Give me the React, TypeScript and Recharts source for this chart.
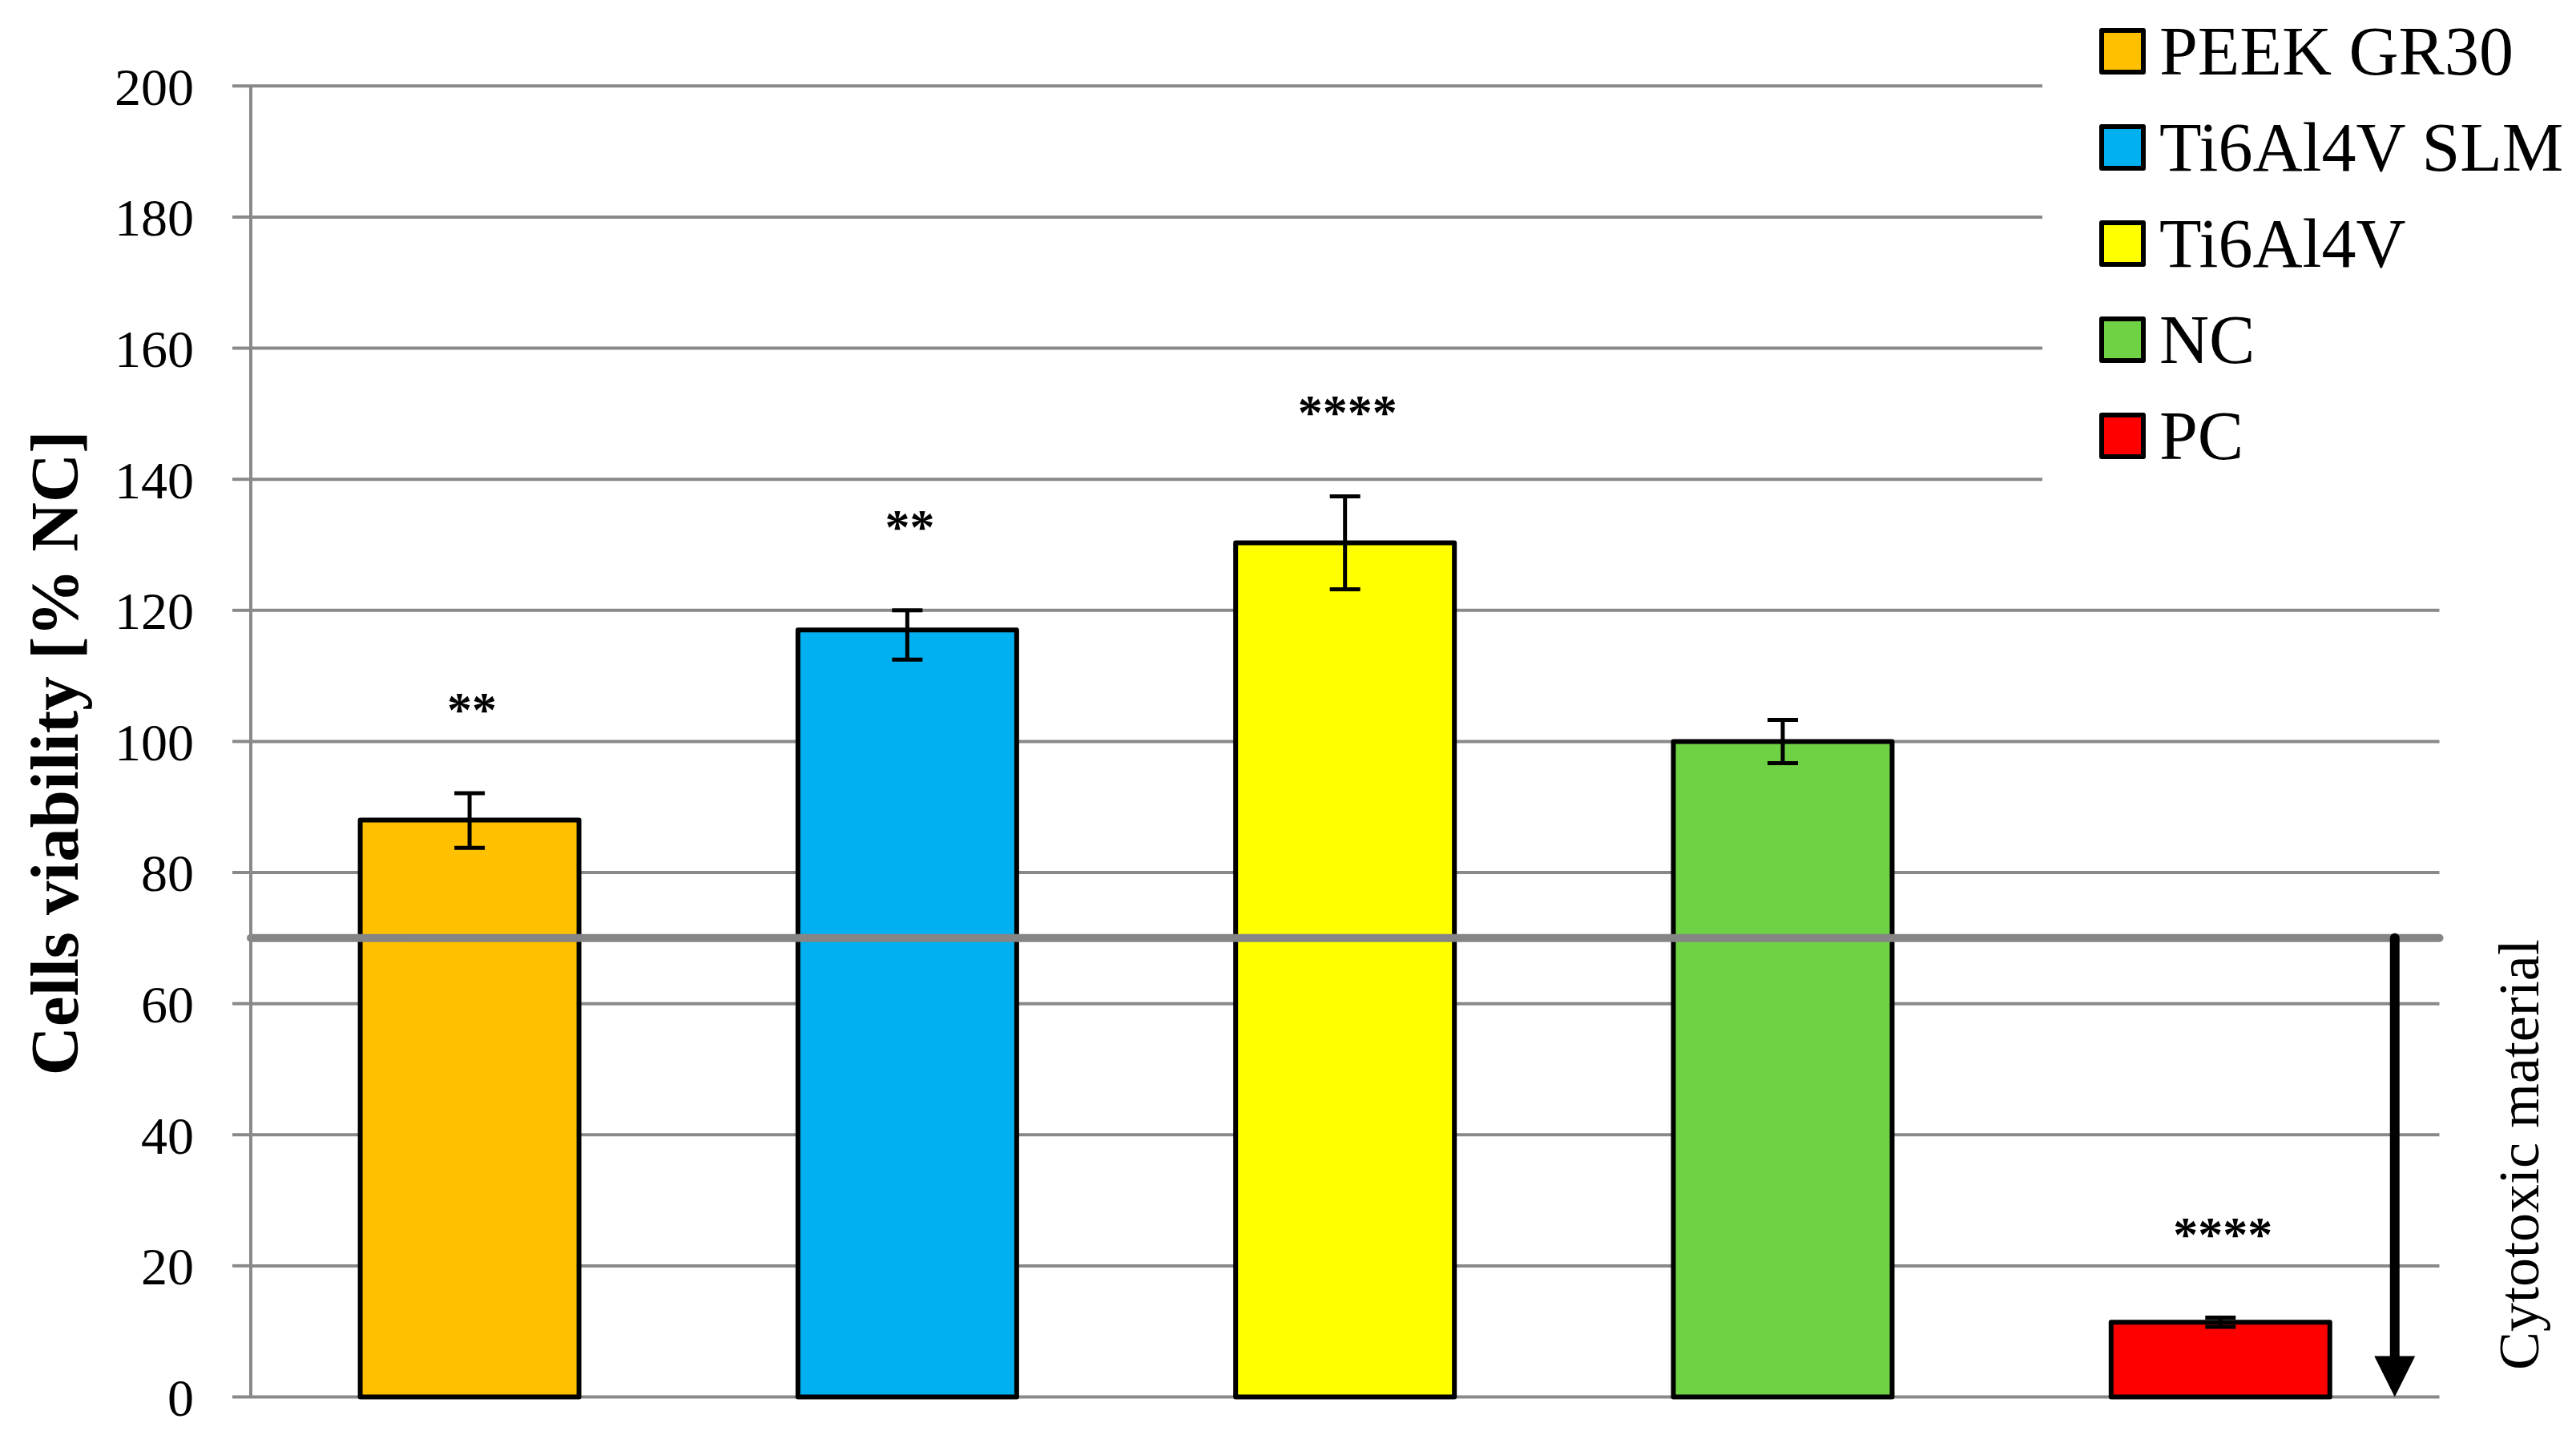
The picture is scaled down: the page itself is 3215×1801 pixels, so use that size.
import React from 'react';
import {
  BarChart,
  Bar,
  XAxis,
  YAxis,
  CartesianGrid,
  ErrorBar,
  Cell,
  ReferenceLine,
  Legend,
  LabelList,
} from 'recharts';

const categories = ['PEEK GR30', 'Ti6Al4V SLM', 'Ti6Al4V', 'NC', 'PC'];
const viability = [88.0, 117.0, 130.3, 100.0, 11.4];
const errMinus = [4.25, 4.5, 7.1, 3.3, 0.7];
const errPlus = [4.1, 3.0, 7.1, 3.3, 0.7];
const significance = ['**', '**', '****', '', '****'];
const colors = ['#FFC000', '#00B0F0', '#FFFF00', '#6FD245', '#FF0000'];
const yTicks = [0, 20, 40, 60, 80, 100, 120, 140, 160, 180, 200];
const cytotoxicThreshold = 70;
const yTitle = 'Cells viability [% NC]';
const arrowText = 'Cytotoxic material';

const data = categories.map((name, i) => ({
  name,
  value: viability[i],
  err: [errMinus[i], errPlus[i]],
  sig: significance[i],
}));

const FONT = '"Liberation Serif", "Times New Roman", serif';
const GRID = '#898989';

const SigLabel = (p: any) => {
  const { x, y, width, height, index, value } = p;
  if (!value) return null;
  const d = data[index];
  const scale = Number(height) / d.value;
  const errTop = Number(y) - d.err[1] * scale;
  return (
    <text
      x={Number(x) + Number(width) / 2 + 3}
      y={errTop - 84}
      textAnchor="middle"
      fontFamily={FONT}
      fontWeight="bold"
      fontSize={62}
      fill="#000"
    >
      {value}
    </text>
  );
};

// Arrow from the cytotoxic threshold down to 0, drawn to the right of the last bar
const ArrowLabel = (p: any) => {
  const { x, y, width, height, index } = p;
  if (index !== categories.length - 1) return null;
  const d = data[index];
  const scale = Number(height) / d.value;
  const bottom = Number(y) + Number(height);
  const top = bottom - cytotoxicThreshold * scale;
  const ax = Number(x) + Number(width) + 81;
  const head = 51;
  const half = 25.5;
  const midY = (top + bottom) / 2 - 16;
  const tx = ax + 179;
  return (
    <g>
      <line x1={ax} y1={top} x2={ax} y2={bottom - head + 4} stroke="#000" strokeWidth={12} strokeLinecap="round" />
      <polygon points={`${ax - half},${bottom - head} ${ax + half},${bottom - head} ${ax},${bottom}`} fill="#000" />
      <text
        x={tx}
        y={midY}
        transform={`rotate(-90, ${tx}, ${midY})`}
        textAnchor="middle"
        fontFamily={FONT}
        fontSize={72}
        fill="#000"
      >
        {arrowText}
      </text>
    </g>
  );
};

const YTitle = () => (
  <text
    x={97}
    y={940}
    transform="rotate(-90, 97, 940)"
    textAnchor="middle"
    fontFamily={FONT}
    fontWeight="bold"
    fontSize={85}
    fill="#000"
  >
    {yTitle}
  </text>
);

const LegendContent = () => (
  <svg width={666} height={640} style={{ display: 'block' }}>
    {categories.map((c, i) => {
      const cy = 64 + i * 120;
      return (
        <g key={c}>
          <rect x={74} y={cy - 26} width={52} height={52} fill={colors[i]} stroke="#000" strokeWidth={6} strokeLinejoin="round" />
          <text x={146} y={cy + 29} fontFamily={FONT} fontSize={86} fill="#000">
            {c}
          </text>
        </g>
      );
    })}
  </svg>
);

export default function App() {
  return (
    <div style={{ position: 'absolute', left: 0, top: 0, background: '#fff' }}>
      <BarChart
        width={3215}
        height={1801}
        data={data}
        margin={{ top: 107.3, right: 170.5, bottom: 57.5, left: 113 }}
        barCategoryGap="25%"
        style={{ fontFamily: FONT }}
      >
        <CartesianGrid vertical={false} stroke={GRID} strokeWidth={4} />
        <XAxis dataKey="name" hide />
        <YAxis
          width={200}
          domain={[0, 200]}
          ticks={yTicks}
          interval={0}
          tick={{ fill: '#000', fontSize: 66, fontFamily: FONT }}
          tickLine={{ stroke: GRID, strokeWidth: 4 }}
          tickSize={23}
          tickMargin={48}
          axisLine={{ stroke: GRID, strokeWidth: 4 }}
          label={YTitle}
        />
        <Bar dataKey="value" isAnimationActive={false} stroke="#000" strokeWidth={6} strokeLinejoin="round">
          {data.map((d, i) => (
            <Cell key={d.name} fill={colors[i]} />
          ))}
          <ErrorBar dataKey="err" width={19} strokeWidth={5} stroke="#000" direction="y" isAnimationActive={false} />
          <LabelList dataKey="sig" content={SigLabel} />
          <LabelList dataKey="name" content={ArrowLabel} />
        </Bar>
        <ReferenceLine y={cytotoxicThreshold} stroke="#858585" strokeWidth={10} strokeLinecap="round" />
        <Legend
          layout="vertical"
          align="center"
          verticalAlign="middle"
          wrapperStyle={{ left: 2549, top: 0, width: 666, height: 640, backgroundColor: '#fff' }}
          content={LegendContent}
        />
      </BarChart>
    </div>
  );
}
